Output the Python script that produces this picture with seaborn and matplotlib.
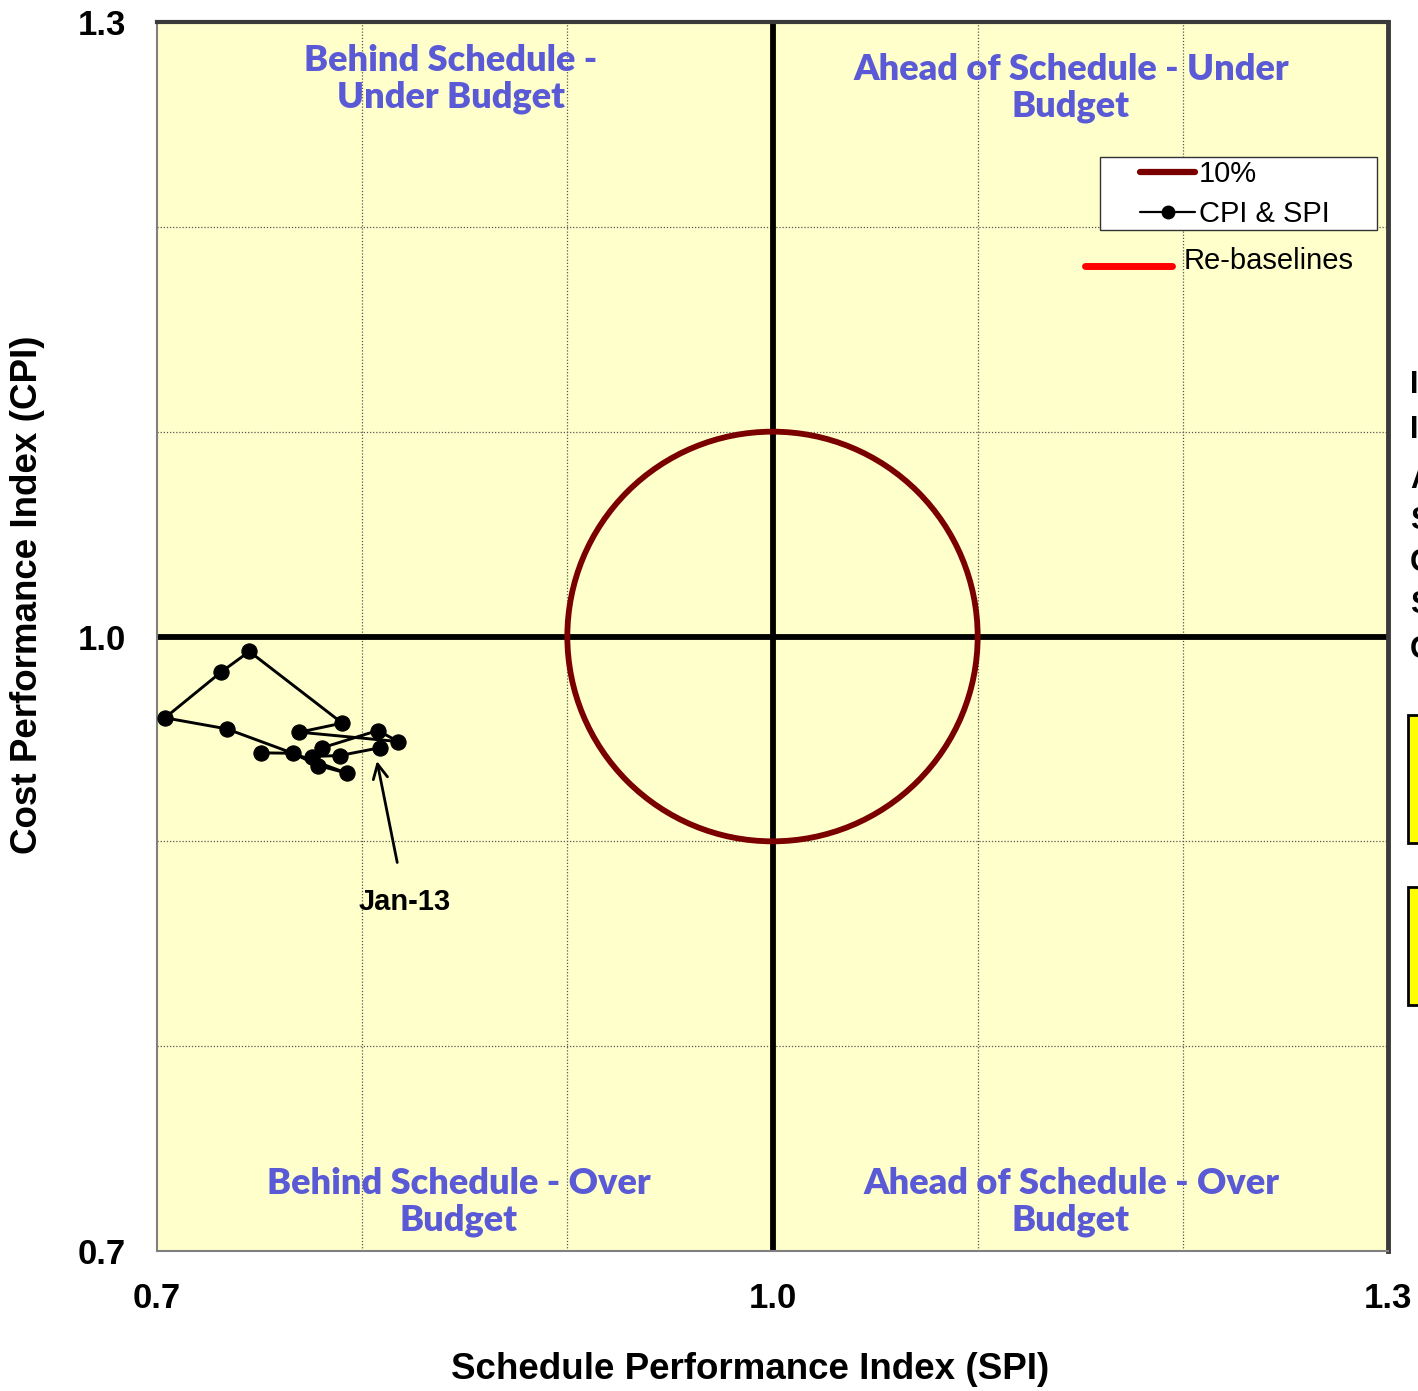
import matplotlib
matplotlib.use("Agg")
import matplotlib.pyplot as plt
import seaborn as sns
import pandas as pd
from matplotlib.patches import Circle, Rectangle
from matplotlib.lines import Line2D

# ---- data ----
spi = [0.7507, 0.7664, 0.7786, 0.7925, 0.7340, 0.7039, 0.7312, 0.7450,
       0.7903, 0.7694, 0.8176, 0.8076, 0.7806, 0.7754, 0.7892, 0.8087]
cpi = [0.9432, 0.9430, 0.9370, 0.9333, 0.9549, 0.9603, 0.9826, 0.9927,
       0.9577, 0.9533, 0.9487, 0.9541, 0.9457, 0.9414, 0.9419, 0.9457]
order = list(range(len(spi)))
axis_ticks = [0.7, 1.0, 1.3]
tick_labels = ["0.7", "1.0", "1.3"]
grid_ticks = [0.8, 0.9, 1.1, 1.2]
quadrant_labels = ["Behind Schedule -\nUnder Budget", "Ahead of Schedule - Under\nBudget",
                   "Behind Schedule - Over\nBudget", "Ahead of Schedule - Over\nBudget"]
side_letters = ["I", "I", "A", "S", "C", "S", "C"]
last_label = "Jan-13"

df = pd.DataFrame({"SPI": spi, "CPI": cpi, "order": order})

sns.set_theme(style="white")
plt.rcParams['font.family'] = ['Liberation Sans', 'DejaVu Sans']
plt.rcParams.update({"text.color": "black", "axes.labelcolor": "black",
                     "xtick.color": "black", "ytick.color": "black"})

W, H = 1418, 1391
fig = plt.figure(figsize=(W / 100, H / 100), dpi=100)
ax = fig.add_axes([157 / W, 1 - 1251 / H, 1231 / W, 1229 / H])
ax.set_facecolor("#FFFFCC")

ax.set_xlim(0.7, 1.3)
ax.set_ylim(0.7, 1.3)

# grid
for g in grid_ticks:
    ax.axvline(g, color="#555555", lw=0.9, ls=(0, (1, 1.5)), zorder=1)
    ax.axhline(g, color="#555555", lw=0.9, ls=(0, (1, 1.5)), zorder=1)

# center lines
ax.axhline(1.0, color="black", lw=4.2, zorder=2)
ax.axvline(1.0, color="black", lw=4.2, zorder=2)

# 10% circle
ax.add_patch(Circle((1.0, 1.0), 0.1, fill=False, ec="#7A0000", lw=4.2, zorder=3))

# data
sns.lineplot(data=df, x="SPI", y="CPI", sort=False, estimator=None, ax=ax,
             color="black", lw=2.1, marker="o", markersize=11,
             markeredgecolor="black", zorder=4, legend=False)

ax.annotate(last_label, xy=(spi[-1] - 0.0015, cpi[-1] - 0.0065), xytext=(0.8209, 0.8706),
            ha="center", va="center", fontsize=21, fontweight="bold", color="black",
            arrowprops=dict(arrowstyle="->", color="black", lw=2.0,
                            shrinkA=16, shrinkB=0, mutation_scale=26), zorder=5)

# ticks
ax.set_xticks(axis_ticks)
ax.set_xticklabels(tick_labels)
ax.set_yticks(axis_ticks)
ax.set_yticklabels(tick_labels)
ax.tick_params(axis="both", which="major", labelsize=25, length=8.5, width=1.2,
               color="#666666", labelcolor="black", direction="out")
ax.tick_params(axis="x", pad=14)
ax.tick_params(axis="y", pad=14)
for lab in ax.get_xticklabels() + ax.get_yticklabels():
    lab.set_fontweight("bold")

ax.set_xlabel("Schedule Performance Index (SPI)", fontsize=26.5, fontweight="bold")
ax.set_ylabel("Cost Performance Index (CPI)", fontsize=26.5, fontweight="bold")
ax.xaxis.set_label_coords(0.4817, -0.082)
ax.yaxis.set_label_coords(-0.091, 0.534)

for s in ["left", "bottom"]:
    ax.spines[s].set_color("#808080")
    ax.spines[s].set_linewidth(1.5)
ax.spines["top"].set_color("#3a3a3a")
ax.spines["top"].set_linewidth(3)
ax.spines["right"].set_color("#3a3a3a")
ax.spines["right"].set_linewidth(3.5)

# quadrant labels
qcol = "#5A5AD6"
qpos = [(451, 79), (1071, 88), (459, 1202), (1071, 1202)]
for txt, (px, py) in zip(quadrant_labels, qpos):
    fig.text(px / W, 1 - py / H, txt, ha="center", va="center", fontsize=26,
             fontweight="heavy", color=qcol, family=["Lato", "DejaVu Sans"],
             linespacing=1.1)

# legend (frame drawn separately)
fig.add_artist(Rectangle((1100 / W, 1 - 230 / H), 277 / W, 73 / H,
                         transform=fig.transFigure, facecolor="white",
                         edgecolor="#333333", lw=1.0, zorder=9))
h1 = Line2D([], [], color="#7A0000", lw=4.5, solid_capstyle="round")
h2 = Line2D([], [], color="black", lw=1.6, marker="o", markersize=9)
leg = fig.legend([h1, h2], ["10%", "CPI & SPI"], loc="upper left",
                 bbox_to_anchor=(1140 / W, 1 - 160 / H), bbox_transform=fig.transFigure,
                 fontsize=21, frameon=False,
                 handlelength=1.9, handletextpad=0.12, borderpad=0.0, labelspacing=0.42,
                 borderaxespad=0)
leg.set_zorder(10)

# re-baselines entry
fig.add_artist(Line2D([1085 / W, 1172 / W], [1 - 266 / H, 1 - 266 / H], color="red", lw=5))
fig.text(1184 / W, 1 - 261 / H, "Re-baselines", ha="left", va="center", fontsize=21)

# cut-off right-side elements
for letter, py in zip(side_letters, [385, 430, 480, 521, 563, 605, 650]):
    fig.text(1410 / W, 1 - py / H, letter, ha="left", va="center", fontsize=22,
             fontweight="bold")
for (y0, y1) in [(715, 843), (887, 1005)]:
    fig.add_artist(Rectangle((1408 / W, 1 - y1 / H), 30 / W, (y1 - y0) / H,
                             transform=fig.transFigure, facecolor="#FFFF00",
                             edgecolor="black", lw=2))

fig.savefig("out.png", dpi=100, facecolor="white")
